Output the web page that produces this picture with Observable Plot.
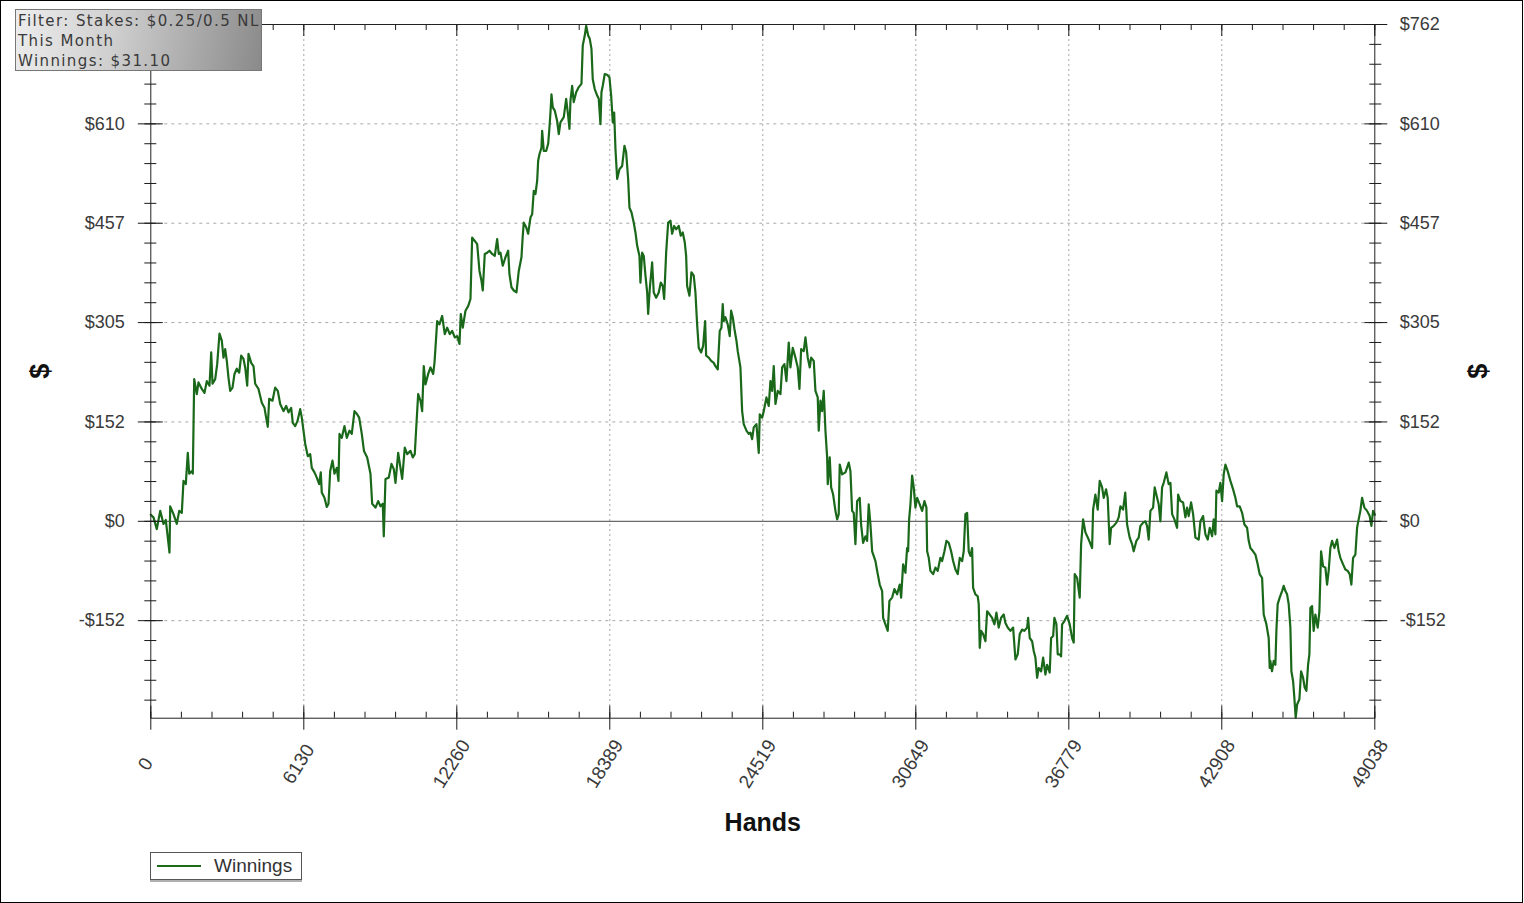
<!DOCTYPE html>
<html>
<head>
<meta charset="utf-8">
<script src="https://cdn.jsdelivr.net/npm/d3@7"></script>
<script src="https://cdn.jsdelivr.net/npm/@observablehq/plot@0.6"></script>
<style>
  body { margin: 0; background: #fff; }
  #wrap { position: relative; width: 1524px; height: 903px; overflow: hidden; background: #fff; }
  #chart { position: absolute; left: 0; top: 0; }
  #border { position: absolute; left: 0; top: 0; width: 1523px; height: 903px; box-sizing: border-box; border: 1px solid #000; pointer-events: none; }
  #info { position: absolute; left: 15px; top: 9px; width: 247px; height: 62px; box-sizing: border-box;
          border: 1px solid #777; background: linear-gradient(100deg, #ededed 0%, #cfcfcf 40%, #8a8a8a 100%);
          font-family: "DejaVu Sans", sans-serif; font-size: 15px; letter-spacing: 1.4px; line-height: 20px;
          color: #3a3a3a; padding: 1px 0 0 2px; white-space: nowrap; overflow: hidden; }
  #legend { position: absolute; left: 150px; top: 852px; width: 152px; height: 28px; box-sizing: border-box;
            border: 1px solid #555; box-shadow: 0 2px 0 #b0b0b0; background: #fff;
            font-family: "Liberation Sans", Arial, sans-serif; font-size: 19px; color: #333; }
  #legend .sw { position: absolute; left: 6px; top: 12px; width: 44px; height: 0; border-top: 2px solid #1c6b1c; }
  #legend .lb { position: absolute; left: 63px; top: 1px; line-height: 24px; }
</style>
</head>
<body>
<div id="wrap">
  <div id="chart"></div>
  <div id="info">Filter: Stakes: $0.25/0.5 NL<br>This Month<br>Winnings: $31.10</div>
  <div id="legend"><div class="sw"></div><div class="lb">Winnings</div></div>
  <div id="border"></div>
</div>
<script>
// ---- data (hands played, cumulative winnings in $) ----
const winnings = [
[0,10],[108,6],[240,-12],[377,16],[509,-4],[601,2],[749,-48],[777,23],[909,11],[1042,-4],[1138,16],[1242,13],
[1310,62],[1402,57],[1482,105],[1538,73],[1642,77],[1683,73],[1739,218],[1843,195],[1911,213],[2043,203],[2151,197],
[2243,215],[2352,208],[2420,259],[2472,211],[2580,218],[2660,241],[2752,288],[2844,277],[2912,251],[2980,264],
[3045,246],[3113,220],[3181,200],[3273,205],[3353,226],[3445,234],[3541,228],[3621,254],[3714,249],[3782,236],
[3862,208],[3914,257],[4022,243],[4114,238],[4182,211],[4314,203],[4447,182],[4555,174],[4607,162],[4687,145],
[4743,188],[4875,185],[4983,205],[5088,200],[5184,180],[5316,169],[5424,177],[5516,167],[5624,174],[5689,151],
[5785,146],[5877,154],[5985,172],[6049,159],[6117,139],[6185,119],[6289,100],[6386,103],[6450,82],[6558,75],
[6650,67],[6746,57],[6810,75],[6850,44],[6958,36],[7051,22],[7119,27],[7187,77],[7279,93],[7359,73],[7451,82],
[7519,62],[7559,134],[7652,128],[7760,146],[7852,128],[7960,139],[8052,134],[8160,169],[8252,165],[8348,159],
[8453,134],[8540,108],[8669,98],[8801,73],[8869,27],[9002,21],[9110,31],[9202,23],[9294,27],[9334,-23],[9402,65],
[9534,67],[9642,88],[9735,80],[9803,59],[9911,105],[10003,82],[10071,65],[10175,113],[10271,103],[10403,108],
[10496,98],[10576,103],[10632,142],[10712,195],[10804,185],[10872,169],[10936,238],[11005,210],[11113,226],
[11205,236],[11313,226],[11365,243],[11405,266],[11473,307],[11565,302],[11673,315],[11778,287],[11874,297],
[11978,287],[12074,292],[12178,282],[12274,284],[12367,272],[12419,318],[12499,297],[12607,323],[12715,330],
[12807,341],[12875,435],[12980,430],[13076,425],[13168,384],[13248,369],[13300,354],[13380,410],[13476,412],
[13568,415],[13677,410],[13781,407],[13877,433],[13941,410],[14009,412],[14101,392],[14209,405],[14317,415],
[14369,379],[14450,359],[14542,354],[14650,351],[14742,384],[14850,405],[14902,438],[14942,458],[15038,451],
[15118,441],[15211,466],[15279,471],[15343,507],[15411,502],[15479,522],[15519,553],[15571,563],[15651,573],
[15679,599],[15744,568],[15840,568],[15920,579],[15972,604],[16012,627],[16052,655],[16104,635],[16184,630],
[16280,614],[16345,594],[16412,612],[16545,620],[16641,648],[16721,622],[16773,602],[16813,645],[16881,668],
[16945,643],[17042,658],[17146,666],[17254,671],[17306,730],[17386,745],[17442,760],[17522,745],[17586,740],
[17654,725],[17706,678],[17786,663],[17883,653],[17947,648],[18015,609],[18055,658],[18107,668],[18187,686],
[18283,685],[18375,681],[18444,653],[18508,612],[18564,627],[18616,571],[18684,525],[18776,540],[18884,545],
[18976,576],[19044,566],[19124,525],[19177,481],[19257,474],[19349,458],[19417,443],[19485,423],[19577,407],
[19617,366],[19685,412],[19750,407],[19818,377],[19886,351],[19926,318],[19990,356],[20086,397],[20150,351],
[20246,343],[20350,351],[20431,366],[20511,361],[20567,341],[20647,412],[20727,458],[20819,461],[20887,441],
[20967,453],[21047,448],[21152,453],[21232,438],[21312,443],[21392,428],[21448,407],[21488,361],[21580,346],
[21660,382],[21752,377],[21820,351],[21888,302],[21953,266],[22049,259],[22129,269],[22209,307],[22249,254],
[22353,251],[22450,246],[22554,243],[22622,238],[22714,233],[22794,292],[22862,297],[22914,333],[22954,307],
[23022,313],[23114,302],[23194,284],[23250,323],[23315,313],[23383,295],[23463,277],[23515,261],[23623,236],
[23691,169],[23755,149],[23864,139],[23956,134],[24024,136],[24092,126],[24156,144],[24264,149],[24357,105],
[24397,164],[24493,159],[24557,169],[24665,190],[24757,177],[24825,215],[24893,200],[24958,238],[25026,180],
[25118,200],[25226,195],[25294,236],[25386,241],[25466,215],[25558,274],[25626,236],[25719,266],[25827,251],
[25919,236],[25987,203],[26055,264],[26159,261],[26228,282],[26320,251],[26400,236],[26456,251],[26560,246],
[26628,200],[26720,190],[26760,139],[26828,185],[26896,169],[26960,200],[27029,139],[27097,98],[27121,57],
[27201,98],[27257,52],[27337,41],[27429,16],[27497,3],[27561,11],[27601,87],[27698,72],[27830,75],[27962,90],
[28030,77],[28098,16],[28162,13],[28230,-35],[28298,31],[28402,36],[28458,-5],[28538,-33],[28630,-23],[28698,-30],
[28762,26],[28832,-5],[28900,-46],[29032,-61],[29100,-76],[29204,-97],[29300,-107],[29340,-148],[29432,-158],
[29524,-168],[29592,-122],[29700,-117],[29792,-104],[29900,-112],[30005,-97],[30061,-117],[30141,-66],[30233,-79],
[30301,-41],[30341,-46],[30381,3],[30434,26],[30502,70],[30566,52],[30634,21],[30702,36],[30806,26],[30902,16],
[30995,31],[31075,21],[31103,-46],[31167,-56],[31235,-76],[31343,-81],[31435,-71],[31527,-76],[31635,-56],
[31703,-61],[31796,-46],[31876,-30],[31968,-33],[32064,-46],[32144,-61],[32237,-74],[32329,-81],[32409,-56],
[32505,-61],[32569,-46],[32637,11],[32705,13],[32769,-46],[32837,-53],[32905,-41],[32945,-102],[33037,-112],
[33130,-115],[33170,-127],[33210,-194],[33266,-168],[33346,-173],[33438,-184],[33506,-138],[33610,-143],
[33706,-148],[33799,-158],[33879,-140],[33971,-163],[34067,-148],[34171,-143],[34239,-156],[34331,-163],
[34440,-168],[34548,-163],[34640,-212],[34732,-204],[34812,-173],[34908,-166],[35000,-168],[35109,-163],
[35149,-148],[35213,-179],[35309,-184],[35373,-199],[35441,-209],[35509,-240],[35573,-225],[35670,-230],
[35750,-209],[35842,-235],[35910,-220],[36014,-232],[36070,-179],[36150,-176],[36202,-148],[36282,-158],
[36334,-204],[36414,-204],[36470,-207],[36510,-158],[36603,-153],[36711,-145],[36815,-158],[36911,-179],
[36976,-186],[37016,-81],[37112,-87],[37216,-117],[37272,-35],[37352,3],[37444,-17],[37576,-28],[37712,-41],
[37752,18],[37844,41],[37937,18],[38017,62],[38113,52],[38177,36],[38273,49],[38337,36],[38417,-35],[38473,-10],
[38577,-7],[38686,-2],[38778,6],[38846,23],[38954,18],[39040,44],[39114,-5],[39218,-25],[39314,-35],[39378,-46],
[39486,-30],[39578,-25],[39648,-7],[39756,-2],[39848,0],[39914,-7],[39980,-28],[40048,16],[40156,21],[40220,52],
[40316,36],[40380,26],[40448,0],[40516,52],[40580,59],[40688,75],[40780,57],[40850,59],[40918,11],[41010,3],
[41118,-10],[41158,41],[41250,31],[41358,29],[41450,6],[41518,21],[41582,8],[41678,29],[41759,11],[41851,-25],
[41983,-28],[42051,0],[42159,8],[42251,-20],[42344,-28],[42424,-10],[42520,-23],[42584,3],[42652,-20],[42692,47],
[42784,44],[42852,59],[42920,31],[42984,72],[43053,87],[43145,77],[43253,62],[43361,49],[43453,36],[43521,23],
[43625,23],[43722,13],[43814,-5],[43922,-10],[43986,-30],[44054,-41],[44162,-46],[44254,-51],[44346,-66],
[44426,-81],[44523,-87],[44587,-143],[44695,-158],[44787,-179],[44827,-225],[44853,-214],[44919,-230],[44987,-214],
[45055,-220],[45095,-168],[45147,-127],[45227,-117],[45323,-107],[45388,-99],[45456,-107],[45524,-112],[45588,-127],
[45656,-163],[45696,-230],[45764,-245],[45816,-271],[45868,-301],[45925,-281],[46017,-273],[46085,-230],[46165,-240],
[46229,-255],[46297,-260],[46365,-220],[46417,-204],[46457,-133],[46525,-130],[46589,-168],[46657,-143],[46750,-163],
[46818,-138],[46886,-46],[46966,-69],[47058,-71],[47126,-97],[47190,-76],[47258,-41],[47326,-30],[47419,-41],
[47527,-28],[47591,-46],[47659,-56],[47767,-66],[47859,-74],[47952,-76],[48032,-81],[48100,-97],[48168,-56],
[48260,-51],[48328,-10],[48392,3],[48460,16],[48528,36],[48620,21],[48729,16],[48833,8],[48901,-7],[48969,16],
[49038,10]
];

// ---- axes ----
const yDomain = [-302, 762];
const yTicks = [-152.4, 0, 152.4, 304.8, 457.2, 609.6, 762];
const yTickLabels = ["-$152", "$0", "$152", "$305", "$457", "$610", "$762"];
const xDomain = [0, 49038];
const xTicks = [0, 6130, 12260, 18389, 24519, 30649, 36779, 42908, 49038];

const yMinor = d3.range(-9, 26).map(i => i * 30.48).filter(v => v >= yDomain[0] && v <= yDomain[1]);
const xMinor = d3.range(0, 41).map(i => i * xDomain[1] / 40);
const fmtY = d => yTickLabels[yTicks.indexOf(d)];
// the left top label sits under the filter box in the reference
const yTicksLeftLabels = yTicks.filter(d => d !== 762);

const tickInk = "#1a1a1a";
const labelInk = "#3a3a3a";

const chart = Plot.plot({
  width: 1524,
  height: 845,
  marginTop: 24,
  marginLeft: 150.3,
  marginRight: 149.7,
  marginBottom: 127.3,
  x: {domain: xDomain},
  y: {domain: yDomain},
  style: {fontFamily: "'Liberation Sans', Arial, sans-serif", background: "transparent", overflow: "visible"},
  marks: [
    Plot.gridY(yTicks.filter(d => d !== 0 && d !== 762), {stroke: "#a8a8a8", strokeOpacity: 1, strokeDasharray: "3,4"}),
    Plot.gridX(xTicks.slice(1, -1), {stroke: "#a8a8a8", strokeOpacity: 1, strokeDasharray: "2,3"}),
    Plot.ruleY([0], {stroke: "#444"}),
    Plot.line(winnings, {x: d => d[0], y: d => d[1], stroke: "#1a681a", strokeWidth: 2.2}),
    Plot.frame({stroke: "#222"}),
    // tick marks
    Plot.axisY(yMinor, {anchor: "left", tickSize: 12, dx: 6, fill: "none", label: null, stroke: tickInk}),
    Plot.axisY(yTicks, {anchor: "left", tickSize: 25, dx: 12.5, fill: "none", label: null, stroke: tickInk}),
    Plot.axisY(yMinor, {anchor: "right", tickSize: 12, dx: -6, fill: "none", label: null, stroke: tickInk}),
    Plot.axisY(yTicks, {anchor: "right", tickSize: 23, dx: -11, fill: "none", label: null, stroke: tickInk}),
    Plot.axisX(xMinor, {anchor: "bottom", tickSize: 6, dy: -6, fill: "none", label: null, stroke: tickInk}),
    Plot.axisX(xTicks, {anchor: "bottom", tickSize: 24, dy: -12, fill: "none", label: null, stroke: tickInk}),
    Plot.axisX(xMinor, {anchor: "top", tickSize: 5, dy: 5, fill: "none", label: null, stroke: tickInk}),
    Plot.axisX(xTicks, {anchor: "top", tickSize: 11, dy: 11, fill: "none", label: null, stroke: tickInk}),
    // tick labels
    Plot.axisY(yTicksLeftLabels, {anchor: "left", tickSize: 0, tickPadding: 26, tickFormat: fmtY, label: null, fill: labelInk, fontSize: 18}),
    Plot.axisY(yTicks, {anchor: "right", tickSize: 0, tickPadding: 25, tickFormat: fmtY, label: null, fill: labelInk, fontSize: 18}),
    Plot.text(xTicks, {x: d => d, frameAnchor: "bottom", dy: 49, rotate: -58, text: d => String(d), fontSize: 19, fill: labelInk}),
    // axis titles
    Plot.text(["Hands"], {frameAnchor: "bottom", dy: 113, text: d => d, fontWeight: "bold", fontSize: 25, fill: "#111"}),
    Plot.text(["$"], {frameAnchor: "left", dx: -110, rotate: -90, textAnchor: "middle", text: d => d, fontWeight: "bold", fontSize: 27, fill: "#111"}),
    Plot.text(["$"], {frameAnchor: "right", dx: 104, rotate: -90, textAnchor: "middle", text: d => d, fontWeight: "bold", fontSize: 27, fill: "#111"})
  ]
});
document.getElementById("chart").appendChild(chart);
</script>
</body>
</html>
